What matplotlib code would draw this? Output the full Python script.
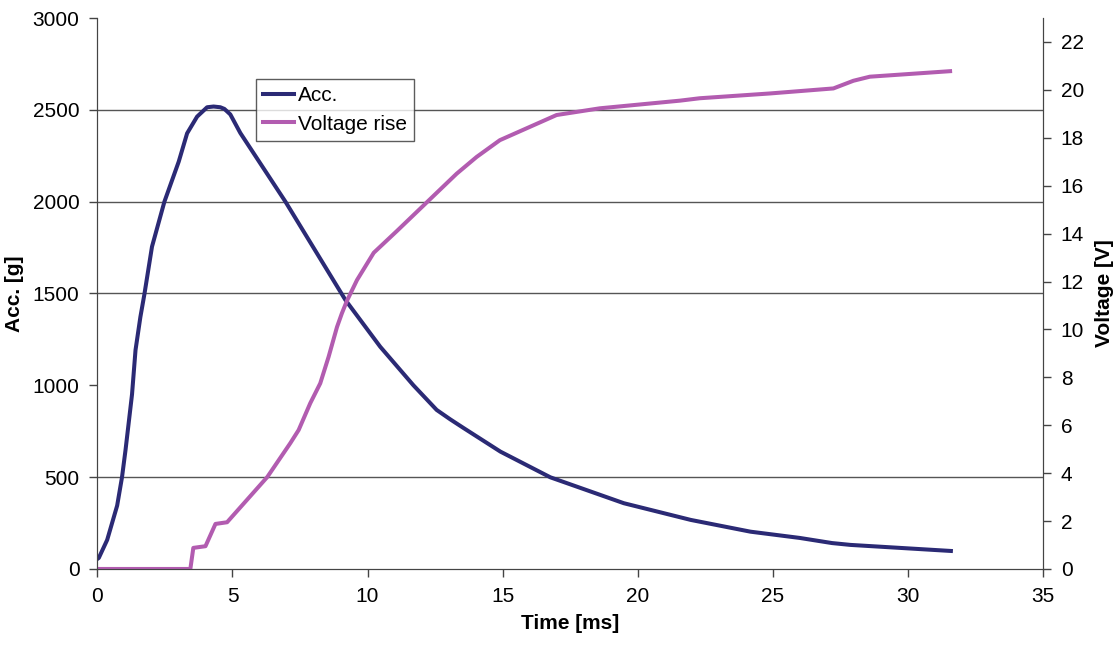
import matplotlib.pyplot as plt

plt.rcParams['font.family'] = ['Liberation Sans', 'DejaVu Sans']

# acceleration curve (ms, g)
acc_time = [0.0, 0.05, 0.36, 0.73, 0.91, 1.04, 1.28, 1.41, 1.59, 1.74, 2.02, 2.48,
            3.01, 3.32, 3.69, 4.06, 4.3, 4.55, 4.7, 4.92, 5.29, 6.96, 9.18, 10.47,
            11.7, 12.56, 13.06, 13.55, 14.92, 16.77, 19.49, 21.97, 24.18, 26.0,
            27.2, 27.88, 31.6]
acc_g = [55, 60, 158, 345, 500, 648, 950, 1192, 1372, 1497, 1755, 2000,
         2218, 2372, 2463, 2514, 2518, 2514, 2505, 2475, 2374, 2000, 1465, 1210,
         1000, 866, 815, 768, 639, 499, 358, 267, 203, 169,
         141, 131, 98]

# voltage rise (ms, V)
volt_time = [0.0, 3.44, 3.55, 4.0, 4.37, 4.8, 6.29, 7.14, 7.45, 7.88, 8.25, 8.56,
             8.87, 9.05, 9.24, 9.61, 10.23, 11.08, 12.19, 13.3, 14.04, 14.9, 17.0,
             18.6, 21.57, 22.3, 24.9, 27.25, 27.99, 28.6, 31.57]
volt_v = [0.0, 0.0, 0.88, 0.95, 1.88, 1.95, 3.84, 5.25, 5.8, 6.92, 7.75, 8.86,
          10.1, 10.67, 11.2, 12.06, 13.2, 14.1, 15.3, 16.5, 17.2, 17.9, 18.95,
          19.23, 19.55, 19.65, 19.85, 20.06, 20.38, 20.55, 20.78]

grid_levels = [500, 1500, 2000, 2500]

fig = plt.figure(figsize=(11.2, 6.57), dpi=100)
ax = fig.add_axes([0.087, 0.134, 0.844, 0.8386])
ax2 = ax.twinx()

for g in grid_levels:
    ax.axhline(g, color='#555555', lw=1.0, zorder=0)

l1, = ax.plot(acc_time, acc_g, color='#2B2A75', lw=2.9, label='Acc.',
              solid_joinstyle='round')
l2, = ax2.plot(volt_time, volt_v, color='#B25CB0', lw=2.9, label='Voltage rise',
               solid_joinstyle='round')

ax.set_xlim(0, 35)
ax.set_ylim(0, 3000)
ax2.set_ylim(0, 23)
ax.set_xticks(range(0, 36, 5))
ax.set_yticks(range(0, 3001, 500))
ax2.set_yticks(range(0, 23, 2))

for a in (ax, ax2):
    a.spines['top'].set_visible(False)
    for s in a.spines.values():
        s.set_color('#444444')
    a.tick_params(direction='out', length=6, width=1, color='#444444',
                  labelsize=15, pad=7)

ax.set_xlabel('Time [ms]', fontsize=15, fontweight='bold', labelpad=6)
ax.set_ylabel('Acc. [g]', fontsize=15, fontweight='bold', labelpad=6)
ax2.set_ylabel('Voltage [V]', fontsize=15, fontweight='bold', labelpad=8)

leg = fig.legend([l1, l2], ['Acc.', 'Voltage rise'], loc='upper left',
                 bbox_to_anchor=(256 / 1120, 1 - 79 / 657), borderaxespad=0,
                 fontsize=15, frameon=True, fancybox=False, handlelength=1.45,
                 borderpad=0.35, labelspacing=0.45, handletextpad=0.2)
leg.get_frame().set_edgecolor('#333333')
leg.get_frame().set_linewidth(1.0)

plt.savefig('out.png', dpi=100)
